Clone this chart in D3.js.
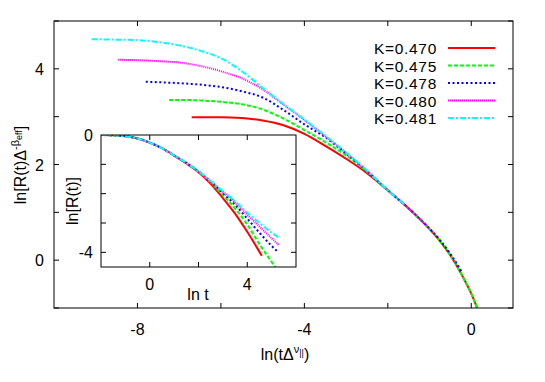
<!DOCTYPE html>
<html>
<head>
<meta charset="utf-8">
<script src="https://cdn.jsdelivr.net/npm/d3@7"></script>
<style>
  body { margin: 0; background: #fff; }
  text { font-family: "Liberation Sans", Arial, sans-serif; fill: #000; }
</style>
</head>
<body>
<svg id="chart"></svg>
<script>
// series labels + styles
const labels = ["K=0.470", "K=0.475", "K=0.478", "K=0.480", "K=0.481"];
const colors = ["#ff0000", "#00ff00", "#0000ff", "#ff00ff", "#00ffff"];
const dashes = [null, "4,2", "2,2.5", "1,1", "6,2,2,2"];

// main panel: ln(t Δ^ν) vs ln[R(t) Δ^-β]
const main470 = [[-6.70,2.99],[-6.0,2.99],[-5.5,2.97],[-5.0,2.92],[-4.5,2.82],[-4.0,2.64],[-3.5,2.39],[-3.0,2.12],[-2.5,1.82],[-2.0,1.46],[-1.5,1.08],[-1.0,0.65],[-0.75,0.40],[-0.5,0.10],[-0.25,-0.27],[0.0,-0.70],[0.15,-1.02]];
const main475 = [[-7.24,3.35],[-7.0,3.35],[-6.5,3.34],[-6.0,3.31],[-5.5,3.26],[-5.0,3.15],[-4.5,2.96],[-4.0,2.72],[-3.5,2.47],[-3.0,2.19],[-2.5,1.85],[-2.0,1.46],[-1.5,1.08],[-1.0,0.65],[-0.75,0.40],[-0.5,0.10],[-0.25,-0.27],[0.0,-0.70],[0.15,-1.02]];
const main478 = [[-7.80,3.73],[-7.5,3.72],[-7.0,3.70],[-6.5,3.67],[-6.0,3.62],[-5.5,3.53],[-5.0,3.40],[-4.5,3.14],[-4.0,2.84],[-3.5,2.57],[-3.0,2.23],[-2.5,1.86],[-2.0,1.46],[-1.5,1.08],[-1.0,0.66],[-0.75,0.42],[-0.5,0.13],[-0.23,-0.24]];
const main480 = [[-8.47,4.19],[-8.0,4.18],[-7.5,4.16],[-7.0,4.13],[-6.5,4.06],[-6.0,3.95],[-5.5,3.80],[-5.0,3.57],[-4.5,3.25],[-4.0,2.93],[-3.5,2.59],[-3.0,2.24],[-2.5,1.87],[-2.0,1.46],[-1.5,1.08],[-1.0,0.66]];
const main481 = [[-9.1,4.62],[-8.5,4.61],[-8.0,4.60],[-7.5,4.56],[-7.0,4.49],[-6.5,4.38],[-6.0,4.22],[-5.5,3.95],[-5.0,3.60],[-4.5,3.26],[-4.0,2.94],[-3.5,2.60],[-3.0,2.25],[-2.5,1.87],[-2.0,1.46],[-1.6,1.16]];
const mainSeries = [main470, main475, main478, main480, main481];

// inset: ln t vs ln[R(t)]
const ins470 = [[-2,0],[-1.5,-0.01],[-1,-0.04],[-0.5,-0.12],[0,-0.26],[0.5,-0.45],[1,-0.70],[1.5,-0.97],[2,-1.27],[2.5,-1.66],[3,-2.15],[3.5,-2.68],[4,-3.30],[4.6,-4.12]];
const ins475 = [[-2,0],[-1.5,-0.01],[-1,-0.04],[-0.5,-0.12],[0,-0.26],[0.5,-0.45],[1,-0.70],[1.5,-0.96],[2,-1.25],[2.5,-1.62],[3,-2.05],[3.5,-2.50],[4,-3.05],[4.5,-3.72],[5.15,-4.5]];
const ins478 = [[-2,0],[-1.5,-0.01],[-1,-0.04],[-0.5,-0.12],[0,-0.26],[0.5,-0.45],[1,-0.70],[1.5,-0.95],[2,-1.24],[2.5,-1.60],[3,-1.98],[3.5,-2.38],[4,-2.85],[4.5,-3.33],[5,-3.78],[5.25,-3.98]];
const ins480 = [[-2,0],[-1.5,-0.01],[-1,-0.04],[-0.5,-0.12],[0,-0.26],[0.5,-0.45],[1,-0.70],[1.5,-0.95],[2,-1.24],[2.5,-1.58],[3,-1.94],[3.5,-2.30],[4,-2.72],[4.5,-3.12],[5,-3.52],[5.3,-3.75]];
const ins481 = [[-2,0],[-1.5,-0.01],[-1,-0.04],[-0.5,-0.12],[0,-0.26],[0.5,-0.45],[1,-0.70],[1.5,-0.95],[2,-1.24],[2.5,-1.57],[3,-1.92],[3.5,-2.26],[4,-2.65],[4.5,-3.0],[5,-3.33],[5.3,-3.5]];
const insetSeries = [ins470, ins475, ins478, ins480, ins481];

// ticks
const mainXTicks = [-8, -6, -4, -2, 0];
const mainXLabels = [-8, -4, 0];
const mainYTicks = [-1, 0, 1, 2, 3, 4, 5];
const mainYLabels = [0, 2, 4];
const insXTicks = [0, 2, 4];
const insXLabels = [0, 4];
const insYTicks = [-1, -2, -3, -4];
const insYLabels = [0, -4];

const W = 545, H = 382;
const svg = d3.select("#chart").attr("width", W).attr("height", H);

const x = d3.scaleLinear().domain([-10, 1]).range([54, 513]);
const y = d3.scaleLinear().domain([-1, 5]).range([308, 21]);

const ix = d3.scaleLinear().domain([-2, 6]).range([101, 296]);
const iy = d3.scaleLinear().domain([-4.5, 0]).range([267, 135]);

svg.append("defs").append("clipPath").attr("id", "clipMain")
    .append("rect").attr("x", 54).attr("y", 21).attr("width", 459).attr("height", 287);
svg.select("defs").append("clipPath").attr("id", "clipIns")
    .append("rect").attr("x", 101).attr("y", 135).attr("width", 195).attr("height", 132);

function drawTicks(g, xs, ys, xt, yt, len) {
    const [x0, x1] = xs.range(), [y0, y1] = ys.range(); // y0 bottom, y1 top
    xt.forEach(v => {
        g.append("line").attr("x1", xs(v)).attr("x2", xs(v)).attr("y1", y0).attr("y2", y0 - len).attr("stroke", "#000");
        g.append("line").attr("x1", xs(v)).attr("x2", xs(v)).attr("y1", y1).attr("y2", y1 + len).attr("stroke", "#000");
    });
    yt.forEach(v => {
        g.append("line").attr("x1", x0).attr("x2", x0 + len).attr("y1", ys(v)).attr("y2", ys(v)).attr("stroke", "#000");
        g.append("line").attr("x1", x1).attr("x2", x1 - len).attr("y1", ys(v)).attr("y2", ys(v)).attr("stroke", "#000");
    });
}

const line = (xs, ys) => d3.line().x(d => xs(d[0])).y(d => ys(d[1])).curve(d3.curveMonotoneX);

// ---- main panel
const gm = svg.append("g");
drawTicks(gm, x, y, mainXTicks, mainYTicks, 5);

gm.append("g").attr("clip-path", "url(#clipMain)")
  .selectAll("path").data(mainSeries).join("path")
    .attr("d", line(x, y))
    .attr("fill", "none")
    .attr("stroke", (d, i) => colors[i])
    .attr("stroke-width", 2)
    .attr("stroke-dasharray", (d, i) => dashes[i]);

gm.append("rect").attr("x", 54).attr("y", 21).attr("width", 459).attr("height", 287)
    .attr("fill", "none").attr("stroke", "#000").attr("stroke-width", 1);

gm.selectAll(".xl").data(mainXLabels).join("text")
    .attr("x", d => x(d)).attr("y", 335).attr("text-anchor", "middle")
    .attr("font-size", 16).text(d => d);
gm.selectAll(".yl").data(mainYLabels).join("text")
    .attr("x", 44).attr("y", d => y(d) + 6).attr("text-anchor", "end")
    .attr("font-size", 16).text(d => d);

// x label
const xl = svg.append("text").attr("x", 285).attr("y", 360).attr("text-anchor", "middle").attr("font-size", 16);
xl.append("tspan").text("ln(tΔ");
xl.append("tspan").attr("font-size", 11).attr("dy", -7).text("ν");
xl.append("tspan").attr("font-size", 9).attr("dy", 3).text("||");
xl.append("tspan").attr("font-size", 16).attr("dy", 4).text(")");

// y label
const yl = svg.append("text").attr("transform", "translate(26,165) rotate(-90)")
    .attr("text-anchor", "middle").attr("font-size", 16);
yl.append("tspan").text("ln[R(t)Δ");
yl.append("tspan").attr("font-size", 11).attr("dy", -7).text("-β");
yl.append("tspan").attr("font-size", 9).attr("dy", 3).text("eff");
yl.append("tspan").attr("font-size", 16).attr("dy", 4).text("]");

// legend
const legY = [54, 71.5, 89, 106.5, 124];
const lg = svg.append("g");
labels.forEach((lab, i) => {
    lg.append("text").attr("x", 437).attr("y", legY[i]).attr("text-anchor", "end")
      .attr("font-size", 15.5).attr("letter-spacing", 0.7).text(lab);
    lg.append("line").attr("x1", 448).attr("x2", 495).attr("y1", legY[i] - 6).attr("y2", legY[i] - 6)
      .attr("stroke", colors[i]).attr("stroke-width", 2).attr("stroke-dasharray", dashes[i]);
});

// ---- inset
const gi = svg.append("g");
gi.append("rect").attr("x", 101).attr("y", 135).attr("width", 195).attr("height", 132).attr("fill", "#fff");
drawTicks(gi, ix, iy, insXTicks, insYTicks, 5);

gi.append("g").attr("clip-path", "url(#clipIns)")
  .selectAll("path").data(insetSeries).join("path")
    .attr("d", line(ix, iy))
    .attr("fill", "none")
    .attr("stroke", (d, i) => colors[i])
    .attr("stroke-width", 2)
    .attr("stroke-dasharray", (d, i) => dashes[i]);

gi.append("rect").attr("x", 101).attr("y", 135).attr("width", 195).attr("height", 132)
    .attr("fill", "none").attr("stroke", "#000").attr("stroke-width", 1);

gi.selectAll(".ixl").data(insXLabels).join("text")
    .attr("x", d => ix(d)).attr("y", 290).attr("text-anchor", "middle")
    .attr("font-size", 16).text(d => d);
gi.selectAll(".iyl").data(insYLabels).join("text")
    .attr("x", 93).attr("y", d => iy(d) + 6).attr("text-anchor", "end")
    .attr("font-size", 16).text(d => d);

gi.append("text").attr("x", 198).attr("y", 300).attr("text-anchor", "middle")
    .attr("font-size", 16).text("ln t");
gi.append("text").attr("transform", "translate(78,201) rotate(-90)")
    .attr("text-anchor", "middle").attr("font-size", 16).text("ln[R(t)]");
</script>
</body>
</html>
